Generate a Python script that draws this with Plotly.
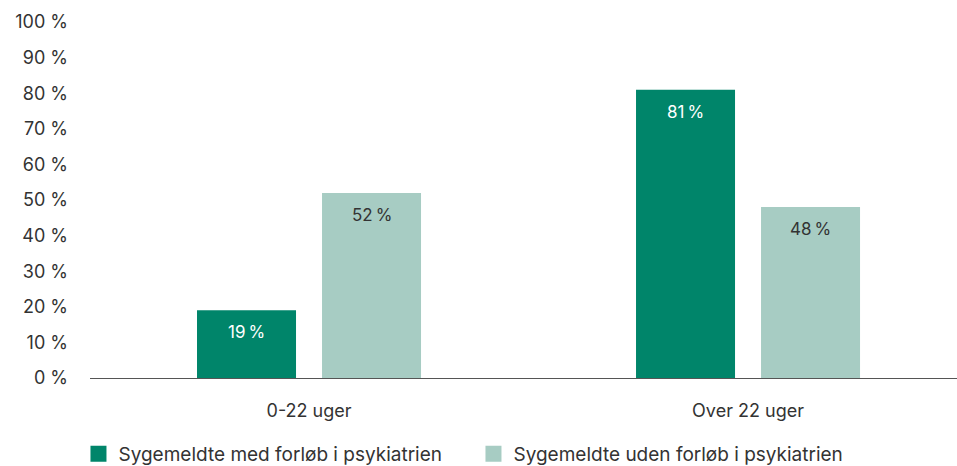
import plotly.graph_objects as go

categories = ["0-22 uger", "Over 22 uger"]
series_names = ["Sygemeldte med forløb i psykiatrien", "Sygemeldte uden forløb i psykiatrien"]
med_values = [19, 81]
uden_values = [52, 48]
y_ticks = [0, 10, 20, 30, 40, 50, 60, 70, 80, 90, 100]
y_tick_labels = [f"{v} %" for v in y_ticks]

colors = ["#00856A", "#A7CCC3"]
text_colors = ["#FFFFFF", "#333333"]
FONT = "Inter, Roboto, Arial, sans-serif"

fig = go.Figure()
for name, vals, col in zip(series_names, [med_values, uden_values], colors):
    fig.add_trace(go.Bar(x=categories, y=vals, name=name, marker=dict(color=col, line=dict(width=0)),
                         showlegend=False, hoverinfo="skip"))
    fig.add_trace(go.Scatter(x=[None], y=[None], mode="markers", name=name,
                             marker=dict(symbol="square", size=20, color=col)))

# value labels
for i, (vals, tc) in enumerate(zip([med_values, uden_values], text_colors)):
    for j, (cat, v) in enumerate(zip(categories, vals)):
        fig.add_annotation(x=j, y=v, xref="x", yref="y", text=f"{v}\u2009%", showarrow=False,
                           yanchor="top", yshift=-10, xshift=(-62.5 if i == 0 else 62.5),
                           font=dict(family=FONT, size=17, color=tc))

fig.update_layout(
    width=957, height=466,
    margin=dict(l=90, r=0, t=22, b=88),
    paper_bgcolor="white", plot_bgcolor="white",
    barmode="group", bargap=0.4305, bargroupgap=0.208,
    font=dict(family=FONT, size=18, color="#333333"),
    showlegend=True,
    legend=dict(orientation="h", xref="container", yref="container", x=0.082, y=0.026,
                xanchor="left", yanchor="middle", font=dict(size=19, color="#333333"),
                itemwidth=30, tracegroupgap=0, entrywidth=350, entrywidthmode="pixels"),
    xaxis=dict(type="category", range=[-0.4989, 1.476], showline=True, linecolor="#555555",
               linewidth=1, ticks="", showgrid=False, ticklabelstandoff=16,
               tickfont=dict(size=18, color="#333333")),
    yaxis=dict(range=[0, 100], tickvals=y_ticks, ticktext=y_tick_labels, showgrid=False,
               zeroline=False, showline=False, ticks="", ticklabelstandoff=21,
               tickfont=dict(size=18, color="#333333")),
)

fig.write_html("out.html", config={"displayModeBar": False},
               post_script="document.body.style.margin='0';document.body.style.overflow='hidden';")
